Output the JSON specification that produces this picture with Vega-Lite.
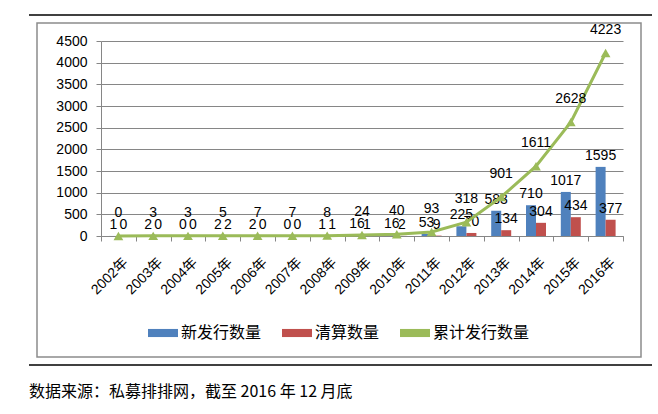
{
  "$schema": "https://vega.github.io/schema/vega-lite/v6.json",
  "width": 522,
  "height": 195,
  "autosize": {"type": "none"},
  "padding": {"left": 101, "top": 41, "right": 35, "bottom": 178},
  "background": "white",
  "config": {
    "view": {"stroke": null},
    "font": "Liberation Sans, Noto Sans CJK SC",
    "axis": {"labelFont": "Liberation Sans, Noto Sans CJK SC", "labelColor": "#000000"},
    "axisY": {
      "title": null, "format": "d", "labelOverlap": false, "labelFlush": false,
      "labelFontSize": 14, "labelPadding": 9, "tickSize": 5,
      "tickColor": "#868686", "domainColor": "#868686", "gridColor": "#868686", "grid": true
    }
  },
  "title": {
    "text": "数据来源：私募排排网，截至 2016 年 12 月底",
    "orient": "bottom",
    "anchor": "start",
    "frame": "group",
    "font": "Noto Sans CJK SC",
    "fontSize": 16,
    "fontWeight": "normal",
    "color": "#000000",
    "dx": -72,
    "offset": 18
  },
  "data": {
    "values": [
      {"year": "2002年", "新发行数量": 1, "清算数量": 0, "累计发行数量": 0},
      {"year": "2003年", "新发行数量": 2, "清算数量": 0, "累计发行数量": 3},
      {"year": "2004年", "新发行数量": 0, "清算数量": 0, "累计发行数量": 3},
      {"year": "2005年", "新发行数量": 2, "清算数量": 2, "累计发行数量": 5},
      {"year": "2006年", "新发行数量": 2, "清算数量": 0, "累计发行数量": 7},
      {"year": "2007年", "新发行数量": 0, "清算数量": 0, "累计发行数量": 7},
      {"year": "2008年", "新发行数量": 1, "清算数量": 1, "累计发行数量": 8},
      {"year": "2009年", "新发行数量": 16, "清算数量": 1, "累计发行数量": 24},
      {"year": "2010年", "新发行数量": 16, "清算数量": 2, "累计发行数量": 40},
      {"year": "2011年", "新发行数量": 53, "清算数量": 9, "累计发行数量": 93},
      {"year": "2012年", "新发行数量": 225, "清算数量": 70, "累计发行数量": 318},
      {"year": "2013年", "新发行数量": 583, "清算数量": 134, "累计发行数量": 901},
      {"year": "2014年", "新发行数量": 710, "清算数量": 304, "累计发行数量": 1611},
      {"year": "2015年", "新发行数量": 1017, "清算数量": 434, "累计发行数量": 2628},
      {"year": "2016年", "新发行数量": 1595, "清算数量": 377, "累计发行数量": 4223}
    ]
  },
  "resolve": {"scale": {"color": "shared"}},
  "layer": [
    {
      "data": {"values": [{}]},
      "mark": {"type": "rect", "fill": "transparent", "stroke": "#8c8c8c", "strokeWidth": 1.5},
      "encoding": {"x": {"value": -64}, "x2": {"value": 540}, "y": {"value": -18}, "y2": {"value": 316}}
    },
    {
      "data": {"values": [{}]},
      "mark": {"type": "rect", "fill": "#000000"},
      "encoding": {"x": {"value": -72}, "x2": {"value": 551}, "y": {"value": -26.75}, "y2": {"value": -25.25}}
    },
    {
      "data": {"values": [{}]},
      "mark": {"type": "rect", "fill": "#000000"},
      "encoding": {"x": {"value": -72}, "x2": {"value": 551}, "y": {"value": 323.25}, "y2": {"value": 324.75}}
    },
    {
      "transform": [{"fold": ["新发行数量", "清算数量"], "as": ["series", "value"]}],
      "mark": {"type": "bar"},
      "encoding": {
        "x": {
          "field": "year", "type": "nominal", "sort": null,
          "scale": {"paddingInner": 0, "paddingOuter": 0},
          "axis": {
            "title": null, "labelAngle": -45, "labelAlign": "right", "labelBaseline": "top",
            "labelFontSize": 14, "labelPadding": 14, "labelOffset": 2,
            "tickBand": "extent", "tickSize": 5, "tickColor": "#868686", "domainColor": "#868686",
            "grid": false
          }
        },
        "xOffset": {
          "field": "series", "type": "nominal",
          "scale": {"domain": ["新发行数量", "清算数量"], "paddingOuter": 0.74, "paddingInner": 0}
        },
        "y": {
          "field": "value", "type": "quantitative",
          "scale": {"domain": [0, 4500], "nice": false},
          "axis": {"values": [0, 500, 1000, 1500, 2000, 2500, 3000, 3500, 4000, 4500]}
        },
        "color": {
          "field": "series", "type": "nominal",
          "scale": {"domain": ["新发行数量", "清算数量", "累计发行数量"], "range": ["#4F81BD", "#C0504D", "#9BBB59"]},
          "legend": {
            "title": null, "orient": "none", "direction": "horizontal",
            "legendX": 47, "legendY": 277,
            "labelFont": "Noto Sans CJK SC", "labelFontSize": 16, "labelColor": "#000000",
            "symbolSize": 900, "symbolType": "M-1,-0.27H1V0.27H-1Z", "symbolStrokeWidth": 0,
            "columnPadding": 20, "labelOffset": 3,
            "encoding": {
              "symbols": {
                "update": {
                  "shape": {"signal": "datum.value == '累计发行数量' ? 'M-1,-0.07H1V0.07H-1Z M0,-0.33L0.2,0.1H-0.2Z' : 'M-1,-0.27H1V0.27H-1Z'"},
                  "fill": {"scale": "color", "field": "value"},
                  "strokeWidth": {"value": 0},
                  "opacity": {"value": 1},
                  "fillOpacity": {"value": 1}
                }
              }
            }
          }
        }
      }
    },
    {
      "transform": [{"fold": ["新发行数量", "清算数量"], "as": ["series", "value"]}],
      "mark": {"type": "text", "baseline": "bottom", "dy": -4, "fontSize": 14, "font": "Liberation Sans", "color": "#000000"},
      "encoding": {
        "x": {"field": "year", "type": "nominal", "sort": null},
        "xOffset": {"field": "series", "type": "nominal"},
        "y": {"field": "value", "type": "quantitative", "axis": {"values": [0, 500, 1000, 1500, 2000, 2500, 3000, 3500, 4000, 4500]}},
        "text": {"field": "value", "type": "quantitative"}
      }
    },
    {
      "mark": {"type": "line", "strokeWidth": 3},
      "encoding": {
        "x": {"field": "year", "type": "nominal", "sort": null},
        "y": {"field": "累计发行数量", "type": "quantitative", "axis": {"values": [0, 500, 1000, 1500, 2000, 2500, 3000, 3500, 4000, 4500]}},
        "color": {"datum": "累计发行数量"}
      }
    },
    {
      "mark": {"type": "point", "shape": "triangle-up", "filled": true, "size": 95, "opacity": 1, "color": "#9BBB59", "strokeWidth": 0},
      "encoding": {
        "x": {"field": "year", "type": "nominal", "sort": null},
        "y": {"field": "累计发行数量", "type": "quantitative", "axis": {"values": [0, 500, 1000, 1500, 2000, 2500, 3000, 3500, 4000, 4500]}}
      }
    },
    {
      "mark": {"type": "text", "baseline": "bottom", "dy": -16, "fontSize": 14, "font": "Liberation Sans", "color": "#000000"},
      "encoding": {
        "x": {"field": "year", "type": "nominal", "sort": null},
        "y": {"field": "累计发行数量", "type": "quantitative", "axis": {"values": [0, 500, 1000, 1500, 2000, 2500, 3000, 3500, 4000, 4500]}},
        "text": {"field": "累计发行数量", "type": "quantitative"}
      }
    }
  ]
}
